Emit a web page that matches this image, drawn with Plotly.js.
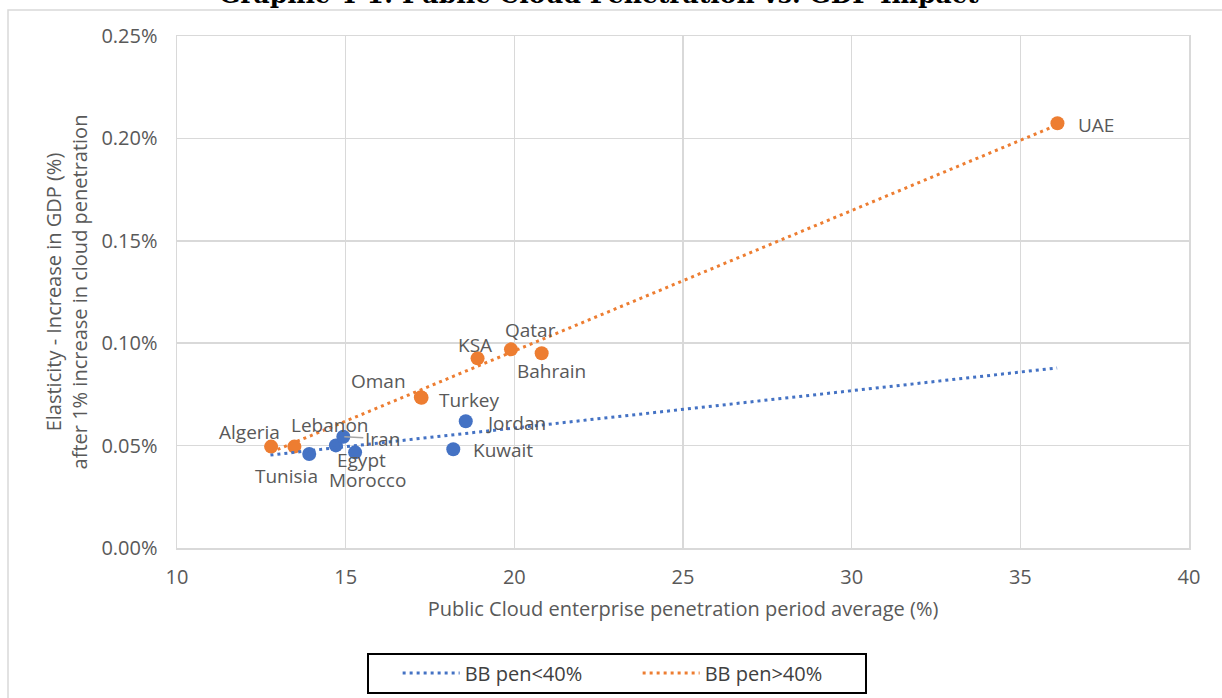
<!DOCTYPE html>
<html>
<head>
<meta charset="utf-8">
<script src="https://cdn.plot.ly/plotly-3.0.1.min.js"></script>
<style>html,body{margin:0;padding:0;background:#fff;}#chart{width:1222px;height:698px;}</style>
</head>
<body>
<div id="chart"></div>
<script>
// Countries with broadband penetration < 40% (blue)
const lowNames = ["Tunisia", "Egypt", "Iran", "Morocco", "Jordan", "Kuwait"];
const lowX = [13.92, 14.71, 14.93, 15.28, 18.56, 18.19];
const lowY = [0.000459, 0.000501, 0.000543, 0.000467, 0.000619, 0.000482];

// Countries with broadband penetration > 40% (orange)
const highNames = ["Algeria", "Lebanon", "Oman", "Turkey", "KSA", "Qatar", "Bahrain", "UAE"];
const highX = [12.79, 13.48, 17.23, 17.25, 18.91, 19.90, 20.81, 36.10];
const highY = [0.000495, 0.000495, 0.000736, 0.000734, 0.000926, 0.000970, 0.000951, 0.002074];

// Linear trend lines (end points)
const lowTrendX = [12.77, 36.09];
const lowTrendY = [0.000454, 0.000879];
const highTrendX = [12.79, 36.10];
const highTrendY = [0.000468, 0.002066];

const seriesNames = ["BB pen<40%", "BB pen>40%"];
const xTicks = [10, 15, 20, 25, 30, 35, 40];
const yTicks = [0, 0.0005, 0.001, 0.0015, 0.002, 0.0025];

// label offsets in px (label centre relative to point)
const lowLabelOffsets = {Tunisia:[-23,22], Egypt:[26,15], Iran:[39,2], Morocco:[12,28], Jordan:[50,2], Kuwait:[50,1]};
const highLabelOffsets = {Algeria:[-22,-15], Lebanon:[36,-22], Oman:[-42,-16], Turkey:[48,2], KSA:[-3,-13], Qatar:[20,-19], Bahrain:[10,18], UAE:[39,2]};

const BLUE = "#4472C4", ORANGE = "#ED7D31", GRID = "#D9D9D9", TXT = "#595959";

const traces = [
  {x: lowX, y: lowY, mode: "markers", type: "scatter", showlegend: false, hoverinfo: "skip",
   marker: {color: BLUE, size: 14}},
  {x: highX, y: highY, mode: "markers", type: "scatter", showlegend: false, hoverinfo: "skip",
   marker: {color: ORANGE, size: 14}},
  {x: lowTrendX, y: lowTrendY, mode: "lines", type: "scatter", name: seriesNames[0],
   line: {color: BLUE, width: 3, dash: "3px,4px"}},
  {x: highTrendX, y: highTrendY, mode: "lines", type: "scatter", name: seriesNames[1],
   line: {color: ORANGE, width: 3, dash: "3px,4px"}}
];

const annotations = [];
function addLabels(names, xs, ys, offs) {
  names.forEach((n, i) => {
    const o = offs[n];
    const isIran = n === "Iran";
    annotations.push({
      x: xs[i], y: ys[i], xref: "x", yref: "y", text: n,
      showarrow: true, ax: o[0], ay: o[1], axref: "pixel", ayref: "pixel",
      arrowhead: 0, arrowwidth: isIran ? 1.5 : 0.1,
      arrowcolor: isIran ? "#A6A6A6" : "rgba(0,0,0,0)", standoff: isIran ? 1 : 0,
      font: {family: "Open Sans", size: 19, color: TXT}
    });
  });
}
addLabels(lowNames, lowX, lowY, lowLabelOffsets);
addLabels(highNames, highX, highY, highLabelOffsets);

annotations.push({
  xref: "paper", yref: "paper", x: 0.417, y: 1.081, xanchor: "center", yanchor: "middle",
  text: "<b>Graphic 4-1: Public Cloud Penetration vs. GDP Impact</b>", showarrow: false,
  font: {family: "DejaVu Serif", size: 25, color: "#000000"}
});

const layout = {
  width: 1222, height: 698,
  margin: {l: 177, r: 33, t: 36, b: 150, pad: 0, autoexpand: false},
  paper_bgcolor: "#FFFFFF", plot_bgcolor: "#FFFFFF",
  font: {family: "Open Sans", size: 20, color: TXT},
  showlegend: true,
  xaxis: {
    range: [10, 40], tickvals: xTicks, ticktext: xTicks.map(String), automargin: false,
    showgrid: true, gridcolor: GRID, gridwidth: 1.5, zeroline: false,
    showline: true, linecolor: GRID, linewidth: 1.5, mirror: true,
    ticks: "", ticklabelstandoff: 10,
    tickfont: {size: 20, color: TXT},
    title: {text: "Public Cloud enterprise penetration period average (%)", standoff: 13,
            font: {size: 20, color: TXT}}
  },
  yaxis: {
    range: [0, 0.0025], tickvals: yTicks, tickformat: ".2%", automargin: false,
    showgrid: true, gridcolor: GRID, gridwidth: 1.5, zeroline: false,
    showline: true, linecolor: GRID, linewidth: 1.5, mirror: true,
    ticks: "", ticklabelstandoff: 14,
    tickfont: {size: 20, color: TXT},
    title: {text: "Elasticity - Increase in GDP (%)<br>after 1% increase in cloud penetration", standoff: 8,
            font: {size: 20, color: TXT}}
  },
  legend: {
    orientation: "h", xref: "container", x: 0.3254, xanchor: "left",
    yref: "container", y: 0.0358, yanchor: "middle",
    bgcolor: "rgba(0,0,0,0)", borderwidth: 0, itemwidth: 57, entrywidth: 168,
    font: {family: "Open Sans", size: 20, color: "#404040"}
  },
  shapes: [
    {type: "rect", xref: "paper", yref: "paper", x0: 0.18874, x1: 0.68083, y0: -0.2832, y1: -0.2070,
     line: {color: "#000000", width: 2}, fillcolor: "rgba(0,0,0,0)"},
    {type: "rect", xref: "paper", yref: "paper", x0: -0.167, x1: 1.1, y0: -0.4, y1: 1.0508,
     line: {color: GRID, width: 1.5}, fillcolor: "rgba(0,0,0,0)", layer: "below"}
  ],
  annotations: annotations
};

Plotly.newPlot("chart", traces, layout, {displayModeBar: false, staticPlot: true});
</script>
</body>
</html>
